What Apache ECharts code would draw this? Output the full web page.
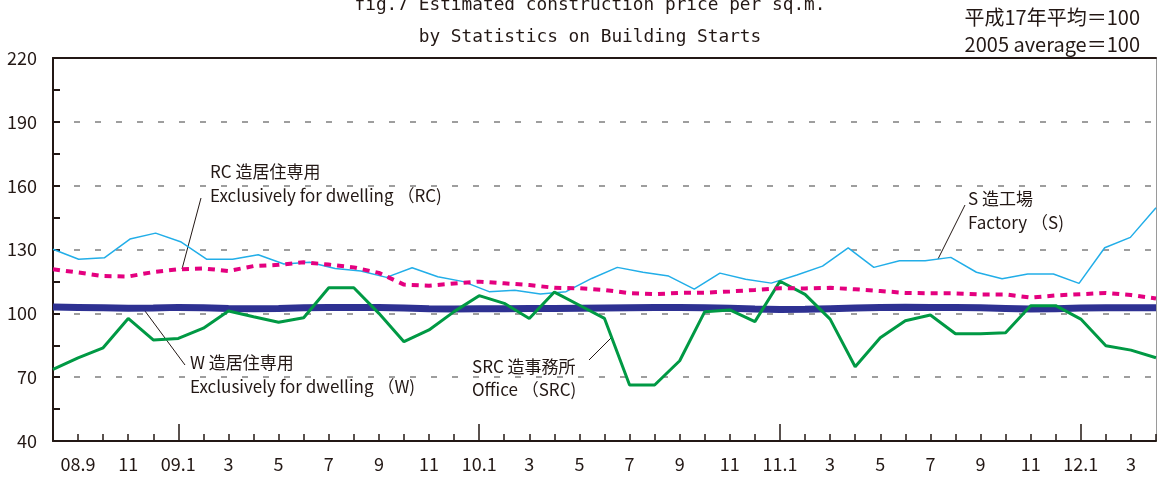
<!DOCTYPE html>
<html>
<head>
<meta charset="utf-8">
<script src="https://cdn.jsdelivr.net/npm/echarts@6/dist/echarts.min.js"></script>
<style>
html,body{margin:0;padding:0;background:#fff;}
#c{width:1157px;height:479px;}
</style>
</head>
<body>
<div id="c"></div>
<script>
// Month categories (tick labels), 2008.8 – 2012.4
const months = ['08.8','08.9','10','11','12','09.1','2','3','4','5','6','7','8','9','10','11','12',
  '10.1','2','3','4','5','6','7','8','9','10','11','12',
  '11.1','2','3','4','5','6','7','8','9','10','11','12',
  '12.1','2','3','4'];

// S造工場 Factory (S) — drawn with 44 points spanning the full width in the original
const factoryS = [130.1,125.4,126.1,134.9,137.7,133.5,125.4,125.4,127.5,123.2,124.0,121.1,119.9,116.9,121.4,
  117.2,114.9,110.2,110.9,109.1,110.2,116.4,121.6,119.3,117.5,111.4,118.9,116.0,114.2,118.0,
  122.2,130.8,121.6,124.7,124.7,126.3,119.3,116.3,118.5,118.5,114.1,130.8,135.7,149.6];

// RC造居住専用 Exclusively for dwelling (RC)
const dwellingRC = [120.7,119.2,117.5,117.3,119.4,120.7,121.1,119.9,122.2,122.8,124.0,122.9,121.6,119.0,113.5,
  113.0,114.0,114.9,114.1,113.3,112.0,111.8,111.0,109.5,109.0,109.6,109.7,110.3,111.0,111.8,
  111.7,112.0,111.3,110.5,109.6,109.4,109.4,108.9,108.9,107.4,108.4,109.0,109.6,108.6,107.0];

// W造居住専用 Exclusively for dwelling (W)
const dwellingW = [103.0,102.8,102.6,102.4,102.5,102.8,102.6,102.3,102.1,102.3,102.6,102.8,102.8,102.7,102.5,
  102.2,102.0,102.1,102.2,102.3,102.3,102.4,102.5,102.6,102.7,102.8,102.6,102.4,102.0,101.8,
  101.9,102.2,102.5,102.7,102.9,102.8,102.7,102.6,102.3,102.0,102.2,102.5,102.6,102.6,102.6];

// SRC造事務所 Office (SRC)
const officeSRC = [73.7,79.1,83.8,97.6,87.5,88.2,93.0,101.1,98.4,95.8,97.9,112.0,112.0,100.0,86.7,
  92.2,100.8,108.3,104.7,97.6,110.0,103.8,97.6,66.3,66.3,77.7,100.8,101.6,96.1,115.1,
  108.9,97.3,74.9,88.5,96.5,99.2,90.4,90.4,90.9,103.6,103.6,97.3,84.8,82.7,79.1];

const yMin = 40, yMax = 220, yStep = 30;

const chart = echarts.init(document.getElementById('c'), null, {renderer: 'canvas'});
const axisFont = '"Liberation Sans Narrow", "Noto Sans CJK JP", sans-serif';
const jpFont = '"Noto Sans CJK JP", sans-serif';
const monoFont = '"DejaVu Sans Mono", "Liberation Mono", monospace';
const black = '#231815';

const option = {
  animation: false,
  backgroundColor: '#fff',
  grid: {left: 53, right: 1, top: 58, bottom: 38, containLabel: false},
  xAxis: [
    { // main month axis: labels + monthly ticks
      type: 'category', data: months, boundaryGap: false, position: 'bottom',
      axisLine: {show: true, lineStyle: {color: black, width: 2}},
      axisTick: {show: true, inside: true, length: 7, interval: 0, lineStyle: {color: black, width: 1.5}},
      axisLabel: {show: true, interval: (i) => i % 2 === 1, color: black, fontSize: 18, fontFamily: axisFont, margin: 14},
      splitLine: {show: false}
    },
    { // January long ticks
      type: 'category', data: months, boundaryGap: false, position: 'bottom',
      axisLine: {show: false},
      axisTick: {show: true, inside: true, length: 17, interval: (i, v) => /\.1$/.test(v), lineStyle: {color: black, width: 1.5}},
      axisLabel: {show: false}, splitLine: {show: false}
    },
    { // axis for the 44-point factory series
      type: 'category', data: factoryS.map((_, k) => k), boundaryGap: false, show: false
    },
    { // top border
      type: 'category', data: months, boundaryGap: false, position: 'top',
      axisLine: {show: true, lineStyle: {color: black, width: 2}},
      axisTick: {show: false}, axisLabel: {show: false}, splitLine: {show: false}
    }
  ],
  yAxis: [
    {
      type: 'value', min: yMin, max: yMax, interval: yStep, position: 'left',
      axisLine: {show: true, lineStyle: {color: black, width: 2}},
      axisTick: {show: true, inside: true, length: 7, lineStyle: {color: black, width: 2}},
      minorTick: {show: true, splitNumber: 2, length: 7, lineStyle: {color: black, width: 2}},
      axisLabel: {color: black, fontSize: 18, fontFamily: axisFont, margin: 16},
      splitLine: {show: true, lineStyle: {color: '#7f7f7f', width: 1.5, type: [6, 15]}}
    },
    { // right border
      type: 'value', min: yMin, max: yMax, interval: yStep, position: 'right',
      axisLine: {show: true, lineStyle: {color: '#9a9a9a', width: 1}},
      axisTick: {show: false}, axisLabel: {show: false}, splitLine: {show: false}
    }
  ],
  series: [
    {
      name: 'S造工場', type: 'line', xAxisIndex: 2, yAxisIndex: 0, data: factoryS,
      showSymbol: false, symbol: 'none', lineStyle: {color: '#22aee8', width: 1.5}, z: 2
    },
    {
      name: 'W造居住専用', type: 'line', xAxisIndex: 0, data: dwellingW,
      showSymbol: false, symbol: 'none', lineStyle: {color: '#2e3192', width: 7}, z: 3
    },
    {
      name: 'SRC造事務所', type: 'line', xAxisIndex: 0, data: officeSRC,
      showSymbol: false, symbol: 'none', lineStyle: {color: '#009944', width: 3}, z: 4
    },
    {
      name: 'RC造居住専用', type: 'line', xAxisIndex: 0, data: dwellingRC,
      showSymbol: false, symbol: 'none', lineStyle: {color: '#e4007f', width: 4, type: [7, 6]}, z: 5
    }
  ],
  graphic: [
    {type: 'text', x: 590, y: 5, style: {text: 'fig.7 Estimated construction price per sq.m.', font: '17.8px ' + monoFont, fill: black, align: 'center', verticalAlign: 'middle'}},
    {type: 'text', x: 590, y: 37, style: {text: 'by Statistics on Building Starts', font: '17.8px ' + monoFont, fill: black, align: 'center', verticalAlign: 'middle'}},
    {type: 'text', x: 1140, y: 17, style: {text: '平成17年平均＝100', font: '20px ' + jpFont, fill: black, align: 'right', verticalAlign: 'middle'}},
    {type: 'text', x: 1140, y: 44, style: {text: '2005 average＝100', font: '20px ' + jpFont, fill: black, align: 'right', verticalAlign: 'middle'}},

    {type: 'text', x: 210, y: 172, style: {text: 'RC 造居住専用', font: '17px ' + jpFont, fill: black, verticalAlign: 'middle'}},
    {type: 'text', x: 210, y: 196, style: {text: 'Exclusively for dwelling （RC)', font: '17px ' + jpFont, fill: black, verticalAlign: 'middle'}},
    {type: 'line', shape: {x1: 201, y1: 198, x2: 182, y2: 269}, style: {stroke: black, lineWidth: 1}},

    {type: 'text', x: 968, y: 199, style: {text: 'S 造工場', font: '17px ' + jpFont, fill: black, verticalAlign: 'middle'}},
    {type: 'text', x: 968, y: 223, style: {text: 'Factory （S)', font: '17px ' + jpFont, fill: black, verticalAlign: 'middle'}},
    {type: 'line', shape: {x1: 965, y1: 205, x2: 938, y2: 259}, style: {stroke: black, lineWidth: 1}},

    {type: 'text', x: 190, y: 363, style: {text: 'W 造居住専用', font: '17px ' + jpFont, fill: black, verticalAlign: 'middle'}},
    {type: 'text', x: 190, y: 387, style: {text: 'Exclusively for dwelling （W)', font: '17px ' + jpFont, fill: black, verticalAlign: 'middle'}},
    {type: 'line', shape: {x1: 142, y1: 307, x2: 185, y2: 365}, style: {stroke: black, lineWidth: 1}},

    {type: 'text', x: 472, y: 367, style: {text: 'SRC 造事務所', font: '17px ' + jpFont, fill: black, verticalAlign: 'middle'}},
    {type: 'text', x: 472, y: 390, style: {text: 'Office （SRC)', font: '17px ' + jpFont, fill: black, verticalAlign: 'middle'}},
    {type: 'line', shape: {x1: 612, y1: 337, x2: 589, y2: 360}, style: {stroke: black, lineWidth: 1}}
  ]
};
chart.setOption(option);
</script>
</body>
</html>
